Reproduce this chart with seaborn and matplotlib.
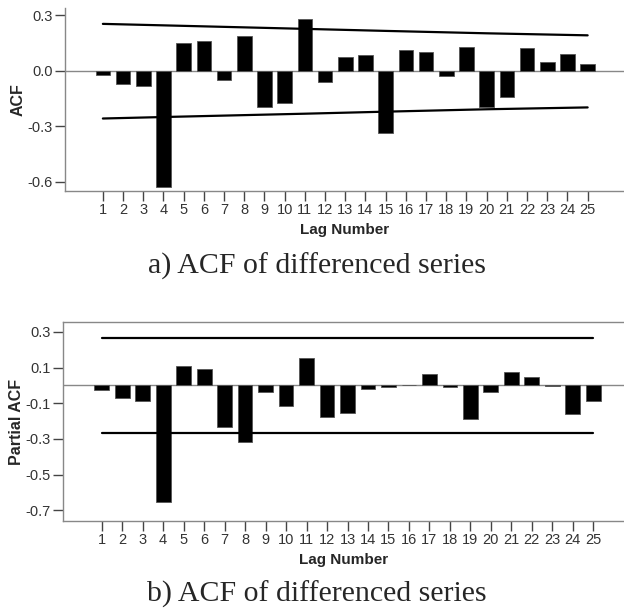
import matplotlib
matplotlib.use("Agg")
import matplotlib.pyplot as plt
import seaborn as sns
import pandas as pd

# -----------------------------
# DATA
# -----------------------------
lags = list(range(1, 26))
acf = [-0.025, -0.07, -0.08, -0.63, 0.148, 0.16, -0.052, 0.19, -0.196, -0.175,
       0.28, -0.06, 0.076, 0.085, -0.337, 0.115, 0.104, -0.03, 0.128, -0.195,
       -0.144, 0.124, 0.05, 0.092, 0.038]
pacf = [-0.028, -0.073, -0.085, -0.652, 0.108, 0.091, -0.233, -0.315, -0.037, -0.113,
        0.155, -0.179, -0.156, -0.018, -0.009, 0.002, 0.061, -0.008, -0.186, -0.037,
        0.073, 0.045, -0.003, -0.158, -0.088]

# confidence limits
acf_bound_lags = [1, 4, 11, 15, 20, 25]
acf_upper = [0.254, 0.246, 0.227, 0.216, 0.203, 0.192]
acf_lower = [-0.258, -0.250, -0.232, -0.221, -0.208, -0.198]
pacf_bound_lags = [1, 25]
pacf_upper = [0.263, 0.263]
pacf_lower = [-0.266, -0.266]

acf_ticks = [0.3, 0.0, -0.3, -0.6]
pacf_ticks = [0.3, 0.1, -0.1, -0.3, -0.5, -0.7]

sns.set_style("white")
plt.rcParams["font.family"] = ["Liberation Sans", "DejaVu Sans"]

fig = plt.figure(figsize=(6.24, 6.14), dpi=100)
ax1 = fig.add_axes([0.104, 0.689, 0.896, 0.298])
ax2 = fig.add_axes([0.101, 0.1515, 0.899, 0.324])

grey = "#888888"


def draw_panel(ax, values, blags, up, lo, ticks, ylim, xlim, ylabel, top_spine):
    df = pd.DataFrame({"lag": lags, "value": values})
    sns.barplot(data=df, x="lag", y="value", color="black", width=0.72,
                native_scale=True, saturation=1, edgecolor="#555555",
                linewidth=0.6, ax=ax)
    ax.axhline(0, color=grey, lw=1.0, zorder=0)
    bdf = pd.DataFrame({"lag": blags + blags,
                        "bound": up + lo,
                        "side": ["u"] * len(blags) + ["l"] * len(blags)})
    sns.lineplot(data=bdf, x="lag", y="bound", units="side", estimator=None,
                 color="black", lw=1.6, ax=ax)
    ax.set_xlim(*xlim)
    ax.set_ylim(*ylim)
    ax.set_xticks(lags)
    ax.set_xticklabels([str(l) for l in lags])
    ax.set_yticks(ticks)
    ax.set_yticklabels([f"{t:.1f}" for t in ticks])
    ax.tick_params(axis="both", direction="out", length=7, width=1.0,
                   color="#444444", labelsize=10.5, labelcolor="#333333",
                   bottom=True, left=True, pad=2)
    ax.set_xlabel("Lag Number", fontsize=11, fontweight="bold", labelpad=4)
    ax.set_ylabel(ylabel, fontsize=11.5, fontweight="bold", labelpad=1)
    for s in ["left", "bottom", "top"]:
        ax.spines[s].set_color(grey)
        ax.spines[s].set_linewidth(1.0)
    ax.spines["right"].set_visible(False)
    ax.spines["top"].set_visible(top_spine)
    if ax.get_legend():
        ax.get_legend().remove()


draw_panel(ax1, acf, acf_bound_lags, acf_upper, acf_lower, acf_ticks,
           (-0.65, 0.34), (-0.88, 26.8), "ACF", False)
draw_panel(ax2, pacf, pacf_bound_lags, pacf_upper, pacf_lower, pacf_ticks,
           (-0.76, 0.355), (-0.89, 26.5), "Partial ACF", True)

fig.text(0.508, 1 - 266 / 614, "a) ACF of differenced series",
         ha="center", va="center", fontsize=21.5, family="Liberation Serif")
fig.text(0.508, 1 - 594 / 614, "b) ACF of differenced series",
         ha="center", va="center", fontsize=21.5, family="Liberation Serif")

fig.savefig("out.png", dpi=100)
